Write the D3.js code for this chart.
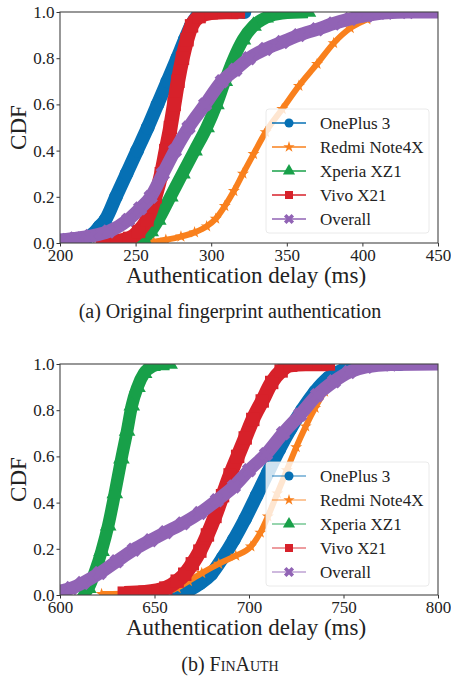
<!DOCTYPE html>
<html>
<head>
<meta charset="utf-8">
<script src="https://cdn.jsdelivr.net/npm/d3@7"></script>
<style>
  body { margin: 0; background: #fff; }
  svg { display: block; font-family: "Liberation Serif", "Times New Roman", "DejaVu Serif", serif; }
</style>
</head>
<body>
<div id="chart"></div>
<script>

// series names, legend order = draw order
const seriesNames = ["OnePlus 3", "Redmi Note4X", "Xperia XZ1", "Vivo X21", "Overall"];
const seriesColors = ["#0670b4", "#f9801d", "#18a049", "#d7212a", "#9163b5"];

// (a) original fingerprint authentication, [delay ms, cdf]
const topOnePlus = [[190,0.008],[200,0.01],[210,0.014],[216,0.02],[222,0.04],[226,0.07],[230,0.1],[237,0.2],[244,0.3],[251,0.4],[258,0.5],[264.5,0.6],[271,0.7],[277.5,0.8],[282.5,0.88],[286.5,0.94],[290.5,0.98],[296,0.998],[305,1.0],[322,1.0]];
const topRedmi = [[254,0],[262,0.005],[270,0.014],[280,0.028],[289,0.046],[297,0.072],[303,0.105],[309,0.16],[315,0.225],[321,0.3],[328,0.385],[336,0.48],[347,0.58],[358,0.68],[370,0.775],[381,0.865],[392,0.93],[403,0.968],[414,0.99],[425,0.997],[440,1.0],[455,1.0]];
const topXperia = [[252,0],[255,0.02],[260,0.05],[265,0.1],[273,0.2],[281,0.3],[289,0.4],[297,0.5],[303.5,0.6],[309,0.7],[315,0.8],[321,0.88],[328,0.94],[336,0.975],[347,0.995],[364,1.0]];
const topVivo = [[228,0.003],[238,0.008],[246,0.02],[252,0.05],[257.5,0.1],[263,0.2],[267,0.3],[270,0.4],[273,0.5],[275.5,0.6],[278,0.7],[281,0.8],[284,0.88],[287,0.94],[292,0.98],[300,0.997],[310,1.0],[318,1.0]];
const topOverall = [[195,0.012],[200,0.013],[210,0.02],[220,0.03],[232,0.05],[245,0.1],[253,0.15],[260,0.2],[268,0.3],[276,0.4],[285,0.5],[296,0.6],[307,0.7],[316,0.75],[325,0.8],[336,0.84],[347,0.87],[358,0.9],[370,0.925],[381,0.95],[392,0.97],[403,0.985],[416,0.997],[430,1.0],[455,1.0]];

// (b) FinAuth
const botOnePlus = [[662,0],[668,0.02],[674,0.05],[680,0.09],[686,0.16],[692,0.24],[698,0.33],[704,0.43],[710,0.53],[716,0.63],[722,0.72],[728,0.8],[735,0.88],[742,0.94],[750,0.975],[758,0.993],[766,1.0],[780,1.0]];
const botRedmi = [[622,0.004],[640,0.008],[655,0.015],[662,0.03],[668,0.06],[675,0.095],[684,0.135],[693,0.17],[701,0.21],[706,0.27],[710,0.34],[715,0.44],[720,0.54],[725,0.64],[730,0.73],[735,0.81],[740,0.88],[746,0.93],[752,0.965],[758,0.985],[765,0.995],[780,1.0],[805,1.0]];
const botXperia = [[612,0],[615,0.03],[618.5,0.1],[622,0.19],[625.5,0.3],[629,0.44],[632.5,0.59],[635.5,0.71],[638,0.82],[641,0.9],[644.5,0.96],[649,0.99],[653,1.0],[658,1.0]];
const botVivo = [[634,0.008],[645,0.012],[656,0.03],[662,0.06],[666,0.09],[670,0.135],[674,0.19],[678,0.26],[682,0.34],[686,0.43],[690,0.52],[694,0.6],[698,0.68],[702,0.76],[707,0.84],[712,0.92],[717,0.97],[722,0.995],[730,1.0],[742,1.0]];
const botOverall = [[595,0.01],[600,0.017],[606,0.03],[612,0.052],[621,0.095],[630,0.146],[639,0.196],[648,0.237],[656,0.272],[665,0.31],[674,0.355],[683,0.41],[692,0.47],[700,0.54],[709,0.61],[718,0.7],[727,0.78],[736,0.865],[745,0.925],[753,0.965],[762,0.988],[775,0.998],[805,1.0]];

const topTicks = [200, 250, 300, 350, 400, 450];
const botTicks = [600, 650, 700, 750, 800];
const yTicks = [0, 0.2, 0.4, 0.6, 0.8, 1.0];

const width = 451, height = 678;

const svg = d3.select("#chart").append("svg")
  .attr("width", width)
  .attr("height", height);

// marker shapes per series (plot size / legend size)
const shapes = [
  {type: d3.symbolCircle, size: 150, legend: 64, rot: 0},
  {type: d3.symbolStar, size: 45, legend: 40, rot: 0},
  {type: d3.symbolTriangle, size: 120, legend: 64, rot: 0},
  {type: d3.symbolSquare, size: 180, legend: 64, rot: 0},
  {type: d3.symbolCross, size: 130, legend: 64, rot: 45}
];
const bandWidth = [13.5, 6, 12.5, 14.5, 13];

const panels = [
  {id: "a", top: 12, bottom: 243, domain: [200, 450], ticks: topTicks,
   series: [topOnePlus, topRedmi, topXperia, topVivo, topOverall],
   legendY: 109, legendLine: 1, label: "(a) ", caption: "Original fingerprint authentication", captionY: 318, labelY: 283},
  {id: "b", top: 364, bottom: 595, domain: [600, 800], ticks: botTicks,
   series: [botOnePlus, botRedmi, botXperia, botVivo, botOverall],
   legendY: 462, legendLine: 0.6, label: "(b) ", caption: "FinAuth", captionY: 671, labelY: 635}
];

const left = 60, right = 438;

panels.forEach(function (p) {
  const x = d3.scaleLinear().domain(p.domain).range([left, right]);
  const y = d3.scaleLinear().domain([0, 1]).range([p.bottom, p.top]);

  svg.append("clipPath").attr("id", "clip-" + p.id)
    .append("rect")
    .attr("x", left).attr("y", p.top)
    .attr("width", right - left).attr("height", p.bottom - p.top);

  const g = svg.append("g");
  const plot = g.append("g").attr("clip-path", "url(#clip-" + p.id + ")");

  const line = d3.line()
    .x(d => x(d[0]))
    .y(d => y(d[1]))
    .curve(d3.curveMonotoneX);

  p.series.forEach(function (s, i) {
    plot.append("path")
      .datum(s)
      .attr("d", line)
      .attr("fill", "none")
      .attr("stroke", seriesColors[i])
      .attr("stroke-width", bandWidth[i])
      .attr("stroke-linejoin", "round")
      .attr("stroke-linecap", "butt");

    const sym = d3.symbol().type(shapes[i].type).size(shapes[i].size);
    plot.append("g")
      .selectAll("path")
      .data(s)
      .enter()
      .append("path")
      .attr("d", sym)
      .attr("fill", seriesColors[i])
      .attr("transform", d => "translate(" + x(d[0]) + "," + y(d[1]) + ") rotate(" + shapes[i].rot + ")");
  });

  // axes
  const xAxis = d3.axisBottom(x).tickValues(p.ticks).tickSize(3.5).tickSizeOuter(0).tickPadding(2);
  const yAxis = d3.axisLeft(y).tickValues(yTicks).tickFormat(d3.format(".1f")).tickSize(3.5).tickSizeOuter(0).tickPadding(2);

  const gx = g.append("g").attr("transform", "translate(0," + p.bottom + ")").call(xAxis);
  const gy = g.append("g").attr("transform", "translate(" + left + ",0)").call(yAxis);
  [gx, gy].forEach(function (a) {
    a.attr("font-family", null);
    a.select(".domain").remove();
    a.selectAll("line").attr("stroke", "#333");
    a.selectAll("text")
      .attr("fill", "#222")
      .style("font-size", "17px");
  });

  g.append("rect")
    .attr("x", left).attr("y", p.top)
    .attr("width", right - left).attr("height", p.bottom - p.top)
    .attr("fill", "none")
    .attr("stroke", "#444")
    .attr("stroke-width", 1.1);

  // axis labels
  g.append("text")
    .attr("x", (left + right) / 2 - 3)
    .attr("y", p.labelY)
    .attr("text-anchor", "middle")
    .attr("fill", "#222")
    .style("font-size", "23px")
    .text("Authentication delay (ms)");

  g.append("text")
    .attr("transform", "translate(26," + (p.top + p.bottom) / 2 + ") rotate(-90)")
    .attr("text-anchor", "middle")
    .attr("fill", "#222")
    .style("font-size", "23px")
    .text("CDF");

  // legend
  const lg = g.append("g").attr("transform", "translate(266," + p.legendY + ")");
  lg.append("rect")
    .attr("width", 163).attr("height", 124)
    .attr("rx", 3)
    .attr("fill", "#fff").attr("fill-opacity", 0.8)
    .attr("stroke", "#e4e4e4").attr("stroke-width", 0.8);

  seriesNames.forEach(function (name, i) {
    const cy = 14 + i * 24;
    lg.append("line")
      .attr("x1", 6).attr("x2", 40)
      .attr("y1", cy).attr("y2", cy)
      .attr("stroke", seriesColors[i])
      .attr("stroke-opacity", p.legendLine)
      .attr("stroke-width", 1.5);
    lg.append("path")
      .attr("d", d3.symbol().type(shapes[i].type).size(shapes[i].legend))
      .attr("fill", seriesColors[i])
      .attr("transform", "translate(23," + cy + ") rotate(" + shapes[i].rot + ")");
    lg.append("text")
      .attr("x", 54).attr("y", cy + 6)
      .attr("fill", "#222")
      .style("font-size", "17px")
      .text(name);
  });

  // caption
  const cap = svg.append("text")
    .attr("x", 230)
    .attr("y", p.captionY)
    .attr("text-anchor", "middle")
    .attr("fill", "#222")
    .style("font-size", "20px");
  cap.append("tspan").text(p.label);
  cap.append("tspan")
    .style("font-variant", p.id === "b" ? "small-caps" : "normal")
    .text(p.caption);
});

</script>
</body>
</html>
